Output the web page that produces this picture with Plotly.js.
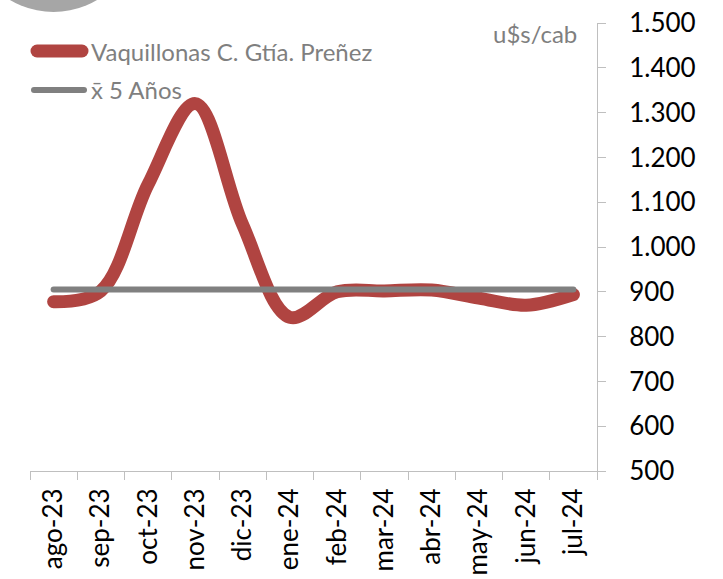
<!DOCTYPE html>
<html>
<head>
<meta charset="utf-8">
<script src="https://cdn.plot.ly/plotly-3.0.1.min.js"></script>
<style>
html, body { margin: 0; padding: 0; background: #fff; }
#chart { width: 723px; height: 579px; }
.scatterlayer .js-line { stroke-linecap: round; stroke-linejoin: round; }
.shapelayer path { stroke-linecap: round; }
</style>
</head>
<body>
<div id="chart"></div>
<script>
// ---- data ----
const months = ["ago-23","sep-23","oct-23","nov-23","dic-23","ene-24","feb-24","mar-24","abr-24","may-24","jun-24","jul-24"];
const vaquillonas = [878, 902, 1140, 1320, 1050, 843, 900, 902, 904, 886, 870, 894];
const promedio5 = [905, 905, 905, 905, 905, 905, 905, 905, 905, 905, 905, 905];
const seriesNames = ["Vaquillonas C. Gtía. Preñez", "x\u0304 5 Años"];
const unitLabel = "u$s/cab";
const yTicks = [500, 600, 700, 800, 900, 1000, 1100, 1200, 1300, 1400, 1500];

const RED = "#B04441";
const GRAY = "#808080";
const TXT = "#7F7F7F";
const AX = "#BFBFBF";
const FONT = "Lato, 'Open Sans', sans-serif";

// plot area geometry in pixels (for paper-coordinate conversion)
const L = 30, R = 597, T = 23, B = 471;
const px = p => (p - L) / (R - L);
const py = q => (B - q) / (B - T);

const traces = [
  { x: months, y: vaquillonas, type: "scatter", mode: "lines", name: seriesNames[0],
    line: { color: RED, width: 13, shape: "spline", smoothing: 1 }, hoverinfo: "skip" },
  { x: months, y: promedio5, type: "scatter", mode: "lines", name: seriesNames[1],
    line: { color: GRAY, width: 6 }, hoverinfo: "skip" }
];

const layout = {
  width: 723, height: 579,
  margin: { l: L, r: 723 - R, t: T, b: 579 - B, pad: 0 },
  paper_bgcolor: "#fff", plot_bgcolor: "#fff",
  separators: ",.",
  showlegend: false,
  font: { family: FONT, color: "#000" },
  xaxis: {
    type: "category", categoryorder: "array", categoryarray: months,
    range: [-0.5, months.length - 0.5],
    tickson: "boundaries", ticks: "outside", ticklen: 8, tickcolor: AX, tickwidth: 1,
    showline: true, linecolor: AX, linewidth: 1, showgrid: false, zeroline: false,
    tickangle: -90, tickfont: { family: FONT, size: 26, color: "#000" },
    ticklabelstandoff: 6
  },
  yaxis: {
    side: "right", range: [500, 1500], tickvals: yTicks, tickformat: ",d",
    ticks: "outside", ticklen: 8, tickcolor: AX, tickwidth: 1,
    showline: true, linecolor: AX, linewidth: 1, showgrid: false, zeroline: false,
    tickfont: { family: FONT, size: 26, color: "#000" },
    ticklabelstandoff: 18
  },
  shapes: [
    { type: "circle", xref: "paper", yref: "paper", layer: "above",
      x0: px(53.5 - 85), x1: px(53.5 + 85), y0: py(12), y1: py(12 - 170),
      fillcolor: "#A6A6A6", line: { width: 0 } },
    { type: "line", xref: "paper", yref: "paper", x0: px(37), x1: px(82), y0: py(51), y1: py(51),
      line: { color: RED, width: 13 } },
    { type: "line", xref: "paper", yref: "paper", x0: px(34), x1: px(84), y0: py(90), y1: py(90),
      line: { color: GRAY, width: 6 } }
  ],
  annotations: [
    { xref: "paper", yref: "paper", x: px(89), y: py(51), xanchor: "left", yanchor: "middle",
      text: seriesNames[0], showarrow: false, font: { family: FONT, size: 24, color: TXT } },
    { xref: "paper", yref: "paper", x: px(89), y: py(89), xanchor: "left", yanchor: "middle",
      text: seriesNames[1], showarrow: false, font: { family: FONT, size: 24, color: TXT } },
    { xref: "paper", yref: "paper", x: px(579), y: py(33), xanchor: "right", yanchor: "middle",
      text: unitLabel, showarrow: false, font: { family: FONT, size: 24, color: TXT } }
  ]
};

Plotly.newPlot("chart", traces, layout, { staticPlot: true, displayModeBar: false });
</script>
</body>
</html>
